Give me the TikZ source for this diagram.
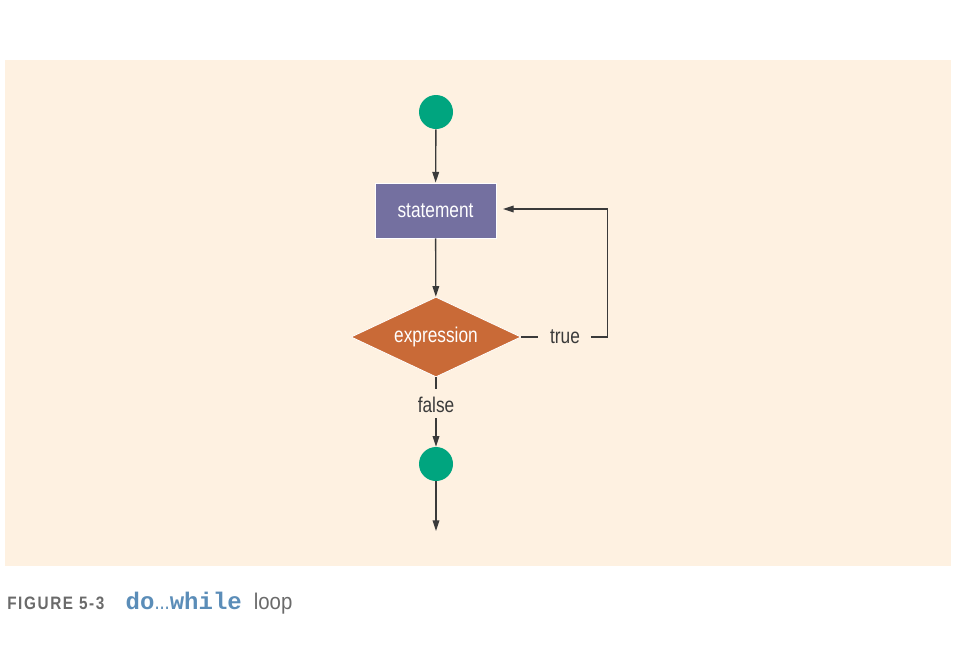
\documentclass[tikz,border=0pt]{standalone}
\usepackage{fontspec}
\setmainfont{Liberation Sans}
\newfontfamily\cond[FakeStretch=0.81]{Liberation Sans}
\newfontfamily\capr[FakeStretch=0.9]{Liberation Sans}
\newfontfamily\condb[FakeStretch=0.85,LetterSpace=9]{Liberation Sans Bold}
\newfontfamily\monob{Liberation Mono Bold}
\usetikzlibrary{shapes.geometric,arrows.meta}
\definecolor{bgc}{HTML}{FEF1E1}
\definecolor{grn}{HTML}{00A57F}
\definecolor{pur}{HTML}{7470A0}
\definecolor{org}{HTML}{C96A37}
\definecolor{lnc}{HTML}{3A3A3A}
\definecolor{capg}{HTML}{6A6A6A}
\definecolor{capb}{HTML}{5B8DB8}
\begin{document}
\begin{tikzpicture}[x=0.75pt,y=-0.75pt,
  conn/.style={draw=lnc,line width=1pt},
  arr/.style={conn,-{Triangle[length=8pt,width=5pt]}},
  term/.style={circle,fill=grn,minimum size=25.5pt,inner sep=0pt},
  stbox/.style={rectangle,fill=pur,draw=white,line width=0.6pt,minimum width=90.75pt,minimum height=41.25pt,text=white,font=\cond\fontsize{16}{18}\selectfont},
  dec/.style={diamond,shape aspect=2.125,fill=org,draw=white,line width=0.6pt,minimum width=127.5pt,minimum height=60pt,inner sep=0pt,text=white,font=\cond\fontsize{16}{18}\selectfont},
  lbl/.style={text=lnc,font=\cond\fontsize{16}{18}\selectfont,inner sep=0pt}]
\useasboundingbox (0,0) rectangle (967,644);
\fill[bgc] (5,60) rectangle (951,566);
\node[term] (c1) at (436,112) {};
\node[stbox] (st) at (435.5,210.5) {statement};
\node[dec] (ex) at (436,337) {expression};
\node[lbl] (tl) at (565,337) {true};
\node[lbl] (fl) at (436,405) {false};
\node[term] (c2) at (436,464) {};
\coordinate (out) at (436,531);
\coordinate (back) at (503,209);
\draw[arr] (c1) -- (st);
\draw[arr] (st) -- (ex);
\draw[conn] (ex.east) -- ([xshift=-9pt]tl.west);
\draw[arr] ([xshift=8pt]tl.east) -- ++(12.75pt,0) |- (back);
\draw[conn] (ex.south) -- ([yshift=6pt]fl.north);
\draw[arr] ([yshift=-4pt]fl.south) -- (c2);
\draw[arr] (c2) -- (out);
\node[anchor=base west,inner sep=0pt] (cap) at (7,609) {{\condb\fontsize{13.5}{15}\selectfont\color{capg}FIGURE 5-3}\hspace{16pt}{\color{capb}\monob\fontsize{18}{18}\selectfont do\cond\fontsize{17}{18}\selectfont...\monob\fontsize{18}{18}\selectfont while}\hspace{9pt}{\capr\fontsize{17}{18}\selectfont\color{capg}loop}};
\end{tikzpicture}
\end{document}
